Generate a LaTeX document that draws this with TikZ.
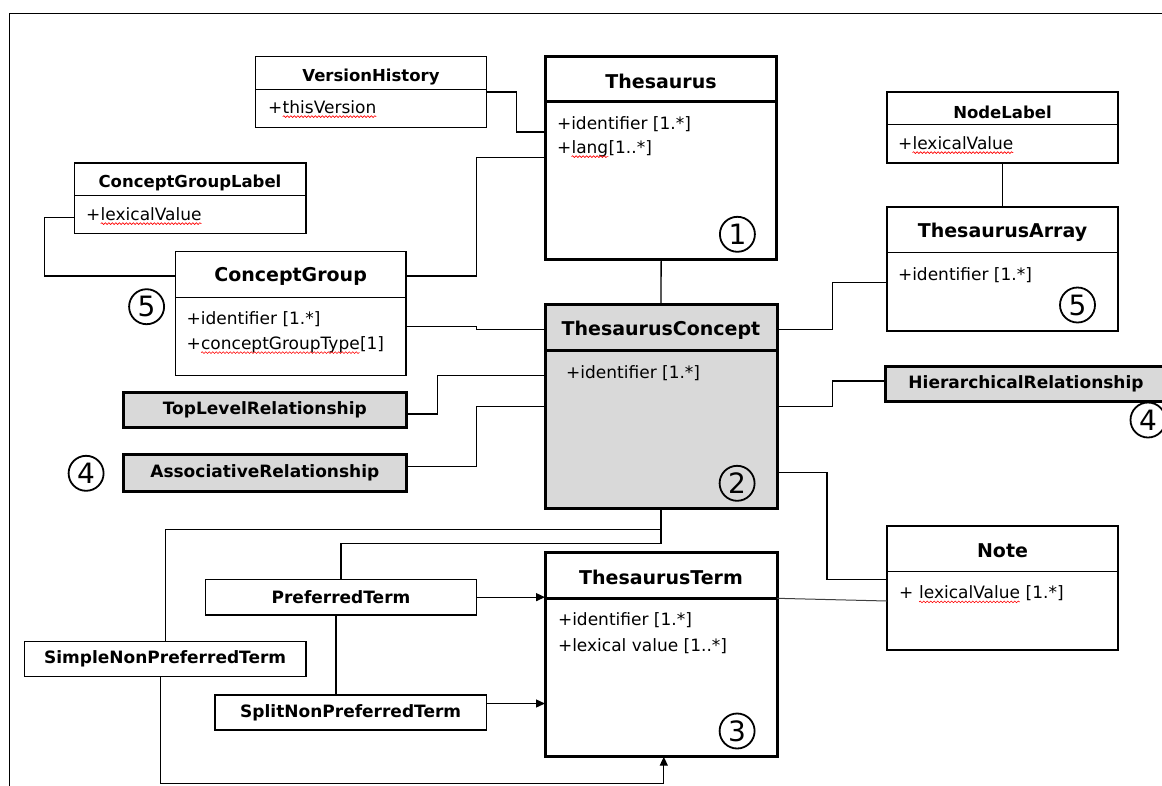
\documentclass[tikz,border=0pt]{standalone}
\usepackage{fontspec}
\setmainfont{DejaVu Sans}
\usetikzlibrary{arrows.meta,decorations.pathmorphing}

\definecolor{sedaUML}{HTML}{D9D9D9}

% cervena vlnovka (kontrola pravopisu)
\newcommand\vlnka[1]{\tikz[baseline=(w.base)]{%
    \node[inner sep=0pt, outer sep=0pt] (w) {#1};
    \draw[red, line width=0.6pt, decorate, decoration={snake, amplitude=0.9pt, segment length=3.5pt}]
      ([yshift=-3.5pt]w.base west) -- ([yshift=-3.5pt]w.base east);}}

\begin{document}
\begin{tikzpicture}[x=1pt, y=-1pt,
    trida/.style={draw=black, line width=1.5pt, fill=white, inner sep=0pt, outer sep=0pt, anchor=north west},
    hlavni/.style={trida, line width=3pt},
    vztah/.style={hlavni, fill=sedaUML, font=\bfseries\fontsize{17}{19}\selectfont},
    pojem/.style={trida, font=\bfseries\fontsize{17}{19}\selectfont},
    nazev/.style={inner sep=0pt, font=\bfseries\fontsize{19}{22}\selectfont},
    maly nazev/.style={inner sep=0pt, font=\bfseries\fontsize{16.5}{18}\selectfont},
    atribut/.style={inner sep=0pt, anchor=west, font=\fontsize{17}{19}\selectfont},
    cislo/.style={circle, draw, line width=1.8pt, minimum size=35pt, inner sep=0pt, font=\fontsize{28}{28}\selectfont},
    tenka/.style={line width=1.5pt},
    tlusta/.style={line width=3pt},
    spoj/.style={line width=1.3pt},
    sipka/.style={spoj, -{Triangle[length=9pt,width=8pt]}},
    ramecek/.style={line width=1.2pt}]

    % 1. PEVNY RAMECEK
    \useasboundingbox (0,0) rectangle (1162,785);
    \draw[ramecek] (9.6,790) -- (9.6,13.3) -- (1170,13.3);

    % --- HLAVNI TRIDY ---
    \node[hlavni, minimum width=231.5pt, minimum height=203.3pt] (thes) at (545.4,56) {};
    \node[hlavni, fill=sedaUML, minimum width=232pt, minimum height=204.3pt] (tc) at (545,304) {};
    \node[hlavni, minimum width=232pt, minimum height=204.4pt] (tt) at (545,552.3) {};
    \draw[tlusta] ([yshift=-45.7pt]thes.north west) -- ([yshift=-45.7pt]thes.north east);
    \draw[tlusta] ([yshift=-46.7pt]tc.north west) -- ([yshift=-46.7pt]tc.north east);
    \draw[tlusta] ([yshift=-46pt]tt.north west) -- ([yshift=-46pt]tt.north east);

    \node[nazev] (thes-n) at (661,81.7) {Thesaurus};
    \node[atribut] (thes-a1) at (556.8,124) {+identifier [1.*]};
    \node[atribut] (thes-a2) at (556.8,149) {+\vlnka{lang}[1..*]};

    \node[nazev] (tc-n) at (661,330) {ThesaurusConcept};
    \node[atribut] (tc-a1) at (566,373.3) {+identifier [1.*]};

    \node[nazev] (tt-n) at (661,577.7) {ThesaurusTerm};
    \node[atribut] (tt-a1) at (557.8,620) {+identifier [1.*]};
    \node[atribut] (tt-a2) at (557.8,645.7) {+lexical value [1..*]};

    % --- OSTATNI TRIDY ---
    \node[trida, minimum width=231.1pt, minimum height=70.6pt] (vh) at (255.3,56.7) {};
    \node[trida, minimum width=231.2pt, minimum height=70.7pt] (cgl) at (74.6,163) {};
    \node[trida, minimum width=230.7pt, minimum height=124pt] (cg) at (175.3,251.7) {};
    \node[trida, minimum width=231pt, minimum height=71pt] (nl) at (887,92) {};
    \node[trida, minimum width=231pt, minimum height=124pt] (ta) at (887,207) {};
    \node[trida, minimum width=231pt, minimum height=124pt] (note) at (887,526) {};
    \draw[tenka] ([yshift=-32.6pt]vh.north west) -- ([yshift=-32.6pt]vh.north east);
    \draw[tenka] ([yshift=-32.3pt]cgl.north west) -- ([yshift=-32.3pt]cgl.north east);
    \draw[tenka] ([yshift=-45.6pt]cg.north west) -- ([yshift=-45.6pt]cg.north east);
    \draw[tenka] ([yshift=-32.3pt]nl.north west) -- ([yshift=-32.3pt]nl.north east);
    \draw[tenka] ([yshift=-45.7pt]ta.north west) -- ([yshift=-45.7pt]ta.north east);
    \draw[tenka] ([yshift=-45.7pt]note.north west) -- ([yshift=-45.7pt]note.north east);

    \node[maly nazev] (vh-n) at (371,76.7) {VersionHistory};
    \node[atribut] (vh-a1) at (268,109) {+\vlnka{thisVersion}};

    \node[maly nazev] (cgl-n) at (190,182.7) {ConceptGroupLabel};
    \node[atribut] (cgl-a1) at (86,216) {+\vlnka{lexicalValue}};

    \node[nazev] (cg-n) at (290.6,276.7) {ConceptGroup};
    \node[atribut] (cg-a1) at (186.4,319.3) {+identifier [1.*]};
    \node[atribut] (cg-a2) at (186.4,345) {+\vlnka{conceptGroupType}[1]};

    \node[maly nazev] (nl-n) at (1002.5,112) {NodeLabel};
    \node[atribut] (nl-a1) at (897.8,145) {+\vlnka{lexicalValue}};

    \node[nazev] (ta-n) at (1002.5,232.3) {ThesaurusArray};
    \node[atribut] (ta-a1) at (897.8,275) {+identifier [1.*]};

    \node[nazev] (note-n) at (1002.5,551) {Note};
    \node[atribut] (note-a1) at (899,594.3) {+ \vlnka{lexicalValue} [1.*]};

    % --- VZTAHY A TERMINY ---
    \node[vztah, minimum width=282.4pt, minimum height=35pt] (tlr) at (123.6,392.7) {TopLevelRelationship};
    \node[vztah, minimum width=282.4pt, minimum height=36.7pt] (ar) at (123.6,454.3) {AssociativeRelationship};
    \node[vztah, minimum width=282pt, minimum height=35.7pt] (hr) at (885,366) {HierarchicalRelationship};

    \node[pojem, minimum width=271pt, minimum height=35.7pt] (pref) at (205.5,579.3) {PreferredTerm};
    \node[pojem, minimum width=271.4pt, minimum height=35pt] (split) at (215,695) {SplitNonPreferredTerm};
    \node[pojem, minimum width=281.3pt, minimum height=35pt] (simple) at (24.5,641.7) {SimpleNonPreferredTerm};

    % --- CISLA V KROUZCICH ---
    \node[cislo] (c1) at (737.4,234.3) {1};
    \node[cislo] (c2) at (737.1,483.3) {2};
    \node[cislo] (c3) at (737.1,731) {3};
    \node[cislo] (c4a) at (86.1,473.3) {4};
    \node[cislo] (c4b) at (1148,420) {4};
    \node[cislo] (c5a) at (146.6,306.7) {5};
    \node[cislo] (c5b) at (1077.5,305) {5};

    % --- SPOJNICE ---
    \draw[spoj] (vh.east) -- ++(30,0) |- ([yshift=25.6pt]thes.west);
    \draw[spoj] ([yshift=-24.3pt]cg.north east) -- ++(70.5,0) |- (thes.west);
    \draw[spoj] ([yshift=-19pt]cgl.west) -- ++(-29.8,0) |- ([yshift=-24.3pt]cg.north west);
    \draw[spoj] (thes.south) -- (tc.north);
    \draw[spoj] (nl.south) -- (ta.north);
    \draw[spoj] ([yshift=-25.3pt]tc.north east) -- ++(55.5,0) |- ([yshift=-13.7pt]ta.west);
    \draw[spoj] ([yshift=-75pt]cg.north east) -- ++(70.5,0) |- ([yshift=-25.3pt]tc.north west);
    \draw[spoj] ([yshift=-3.8pt]tlr.east) -- ++(31.4,0) |- ([yshift=-71.7pt]tc.north west);
    \draw[spoj] ([yshift=6pt]ar.east) -- ++(70.5,0) |- (tc.west);
    \draw[spoj] (tc.east) -- ++(55.5,0) |- ([yshift=3pt]hr.west);
    \draw[spoj] ([yshift=35.6pt]tc.south east) -- ++(50,0) |- ([yshift=8.7pt]note.west);
    \draw[line width=1pt, black!75] ([yshift=-46pt]tt.north east) -- ([yshift=-75pt]note.north west);

    \draw[spoj] (tc.south) -- ++(0,21) -| (simple.north);
    \draw[spoj] (tc.south) -- ++(0,35.4) -| (pref.north);
    \draw[spoj] ([xshift=-5pt]pref.south) -- ([xshift=-5pt]pref.south |- split.north);
    \draw[sipka] (pref.east) -- (pref.east -| tt.west);
    \draw[sipka] ([yshift=9pt]split.east) -- ([yshift=9pt]split.east -| tt.west);
    \draw[sipka] ([xshift=-5pt]simple.south) -- ++(0,106.6) -| ([xshift=2.8pt]tt.south);

\end{tikzpicture}
\end{document}
